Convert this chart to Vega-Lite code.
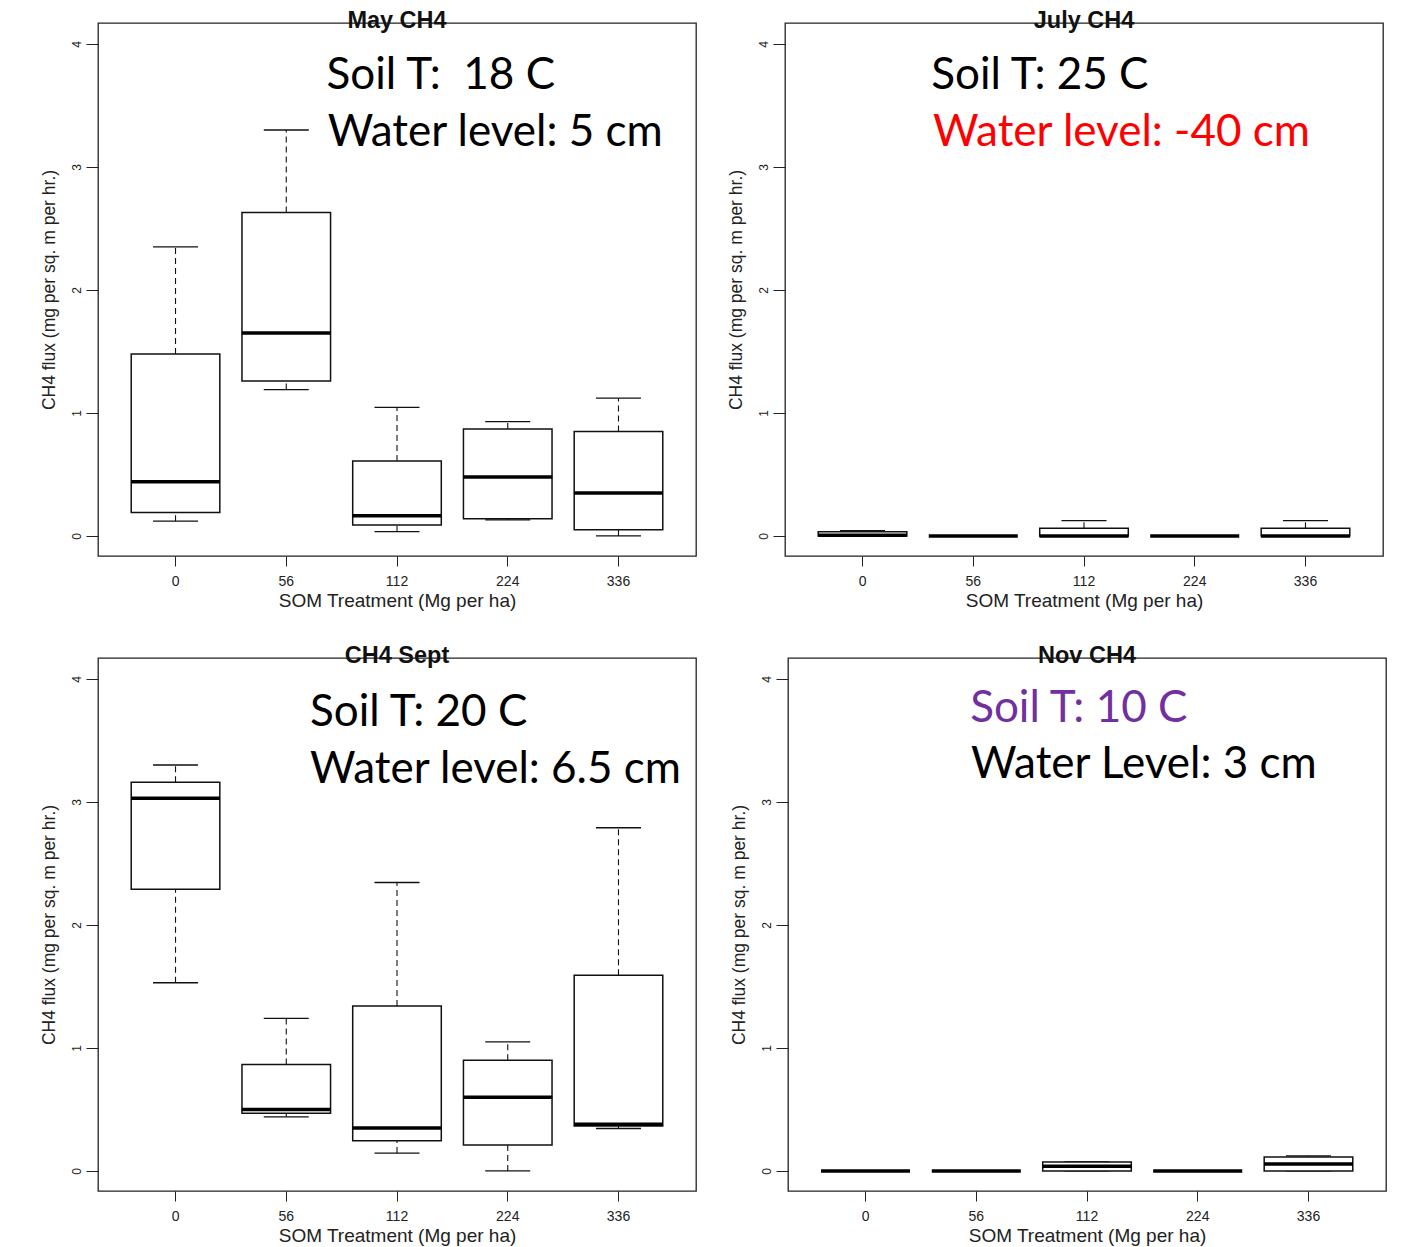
{
  "$schema": "https://vega.github.io/schema/vega-lite/v6.json",
  "background": "white",
  "padding": {"left": 39, "top": 7, "right": 5, "bottom": 5},
  "datasets": {
    "boxes": [
      {"month": "May", "som": "0", "lower": 0.12, "q1": 0.19, "median": 0.44, "q3": 1.48, "upper": 2.35},
      {"month": "May", "som": "56", "lower": 1.19, "q1": 1.26, "median": 1.65, "q3": 2.63, "upper": 3.3},
      {"month": "May", "som": "112", "lower": 0.035, "q1": 0.09, "median": 0.165, "q3": 0.61, "upper": 1.045},
      {"month": "May", "som": "224", "lower": 0.13, "q1": 0.14, "median": 0.48, "q3": 0.87, "upper": 0.93},
      {"month": "May", "som": "336", "lower": 0.0, "q1": 0.05, "median": 0.35, "q3": 0.85, "upper": 1.12},
      {"month": "July", "som": "0", "lower": 0.0, "q1": 0.0, "median": 0.005, "q3": 0.035, "upper": 0.043},
      {"month": "July", "som": "56", "lower": 0.0, "q1": 0.0, "median": 0.0, "q3": 0.0, "upper": 0.0},
      {"month": "July", "som": "112", "lower": 0.0, "q1": 0.0, "median": 0.0, "q3": 0.062, "upper": 0.125},
      {"month": "July", "som": "224", "lower": 0.0, "q1": 0.0, "median": 0.0, "q3": 0.0, "upper": 0.0},
      {"month": "July", "som": "336", "lower": 0.0, "q1": 0.0, "median": 0.0, "q3": 0.062, "upper": 0.125},
      {"month": "Sept", "som": "0", "lower": 1.53, "q1": 2.29, "median": 3.03, "q3": 3.16, "upper": 3.3},
      {"month": "Sept", "som": "56", "lower": 0.44, "q1": 0.47, "median": 0.5, "q3": 0.865, "upper": 1.24},
      {"month": "Sept", "som": "112", "lower": 0.145, "q1": 0.245, "median": 0.35, "q3": 1.34, "upper": 2.345},
      {"month": "Sept", "som": "224", "lower": 0.0, "q1": 0.21, "median": 0.6, "q3": 0.9, "upper": 1.05},
      {"month": "Sept", "som": "336", "lower": 0.345, "q1": 0.365, "median": 0.38, "q3": 1.59, "upper": 2.79},
      {"month": "Nov", "som": "0", "lower": 0.0, "q1": 0.0, "median": 0.0, "q3": 0.0, "upper": 0.0},
      {"month": "Nov", "som": "56", "lower": 0.0, "q1": 0.0, "median": 0.0, "q3": 0.0, "upper": 0.0},
      {"month": "Nov", "som": "112", "lower": 0.0, "q1": 0.0, "median": 0.038, "q3": 0.073, "upper": 0.073},
      {"month": "Nov", "som": "224", "lower": 0.0, "q1": 0.0, "median": 0.0, "q3": 0.0, "upper": 0.0},
      {"month": "Nov", "som": "336", "lower": 0.0, "q1": 0.0, "median": 0.057, "q3": 0.114, "upper": 0.122}
    ],
    "notes": [
      {"month": "May", "soil": "Soil T:\u00a0 18 C", "water": "Water level: 5 cm"},
      {"month": "July", "soil": "Soil T: 25 C", "water": "Water level: -40 cm"},
      {"month": "Sept", "soil": "Soil T: 20 C", "water": "Water level: 6.5 cm"},
      {"month": "Nov", "soil": "Soil T: 10 C", "water": "Water Level: 3 cm"}
    ]
  },
  "columns": 1,
  "align": "none",
  "bounds": "full",
  "spacing": 31,
  "concat": [
    {
      "bounds": "flush",
      "spacing": 89,
      "hconcat": [
        {
          "width": 598, "height": 533,
          "title": {"text": "May CH4"},
          "data": {"name": "boxes"},
          "transform": [{"filter": "datum.month === 'May'"}],
          "encoding": {"x": {"field": "som", "type": "ordinal", "title": "SOM Treatment (Mg per ha)", "scale": {"domain": ["0", "56", "112", "224", "336"], "paddingInner": 0.2, "paddingOuter": 0.3}}},
          "layer": [
            {"mark": {"type": "rule", "strokeDash": [6, 4], "color": "#111", "strokeWidth": 1.1}, "encoding": {"y": {"field": "lower", "type": "quantitative", "scale": {"domain": [-0.163, 4.17], "nice": false, "zero": false}, "axis": {"values": [0, 1, 2, 3, 4]}, "title": "CH4 flux (mg per sq. m per hr.)"}, "y2": {"field": "q1"}}},
            {"mark": {"type": "rule", "strokeDash": [6, 4], "color": "#111", "strokeWidth": 1.1}, "encoding": {"y": {"field": "q3", "type": "quantitative", "scale": {"domain": [-0.163, 4.17], "nice": false, "zero": false}, "axis": {"values": [0, 1, 2, 3, 4]}, "title": "CH4 flux (mg per sq. m per hr.)"}, "y2": {"field": "upper"}}},
            {"mark": {"type": "tick", "orient": "horizontal", "size": 45, "thickness": 1.3, "color": "#111", "opacity": 1}, "encoding": {"y": {"field": "lower", "type": "quantitative", "scale": {"domain": [-0.163, 4.17], "nice": false, "zero": false}, "axis": {"values": [0, 1, 2, 3, 4]}, "title": "CH4 flux (mg per sq. m per hr.)"}}},
            {"mark": {"type": "tick", "orient": "horizontal", "size": 45, "thickness": 1.3, "color": "#111", "opacity": 1}, "encoding": {"y": {"field": "upper", "type": "quantitative", "scale": {"domain": [-0.163, 4.17], "nice": false, "zero": false}, "axis": {"values": [0, 1, 2, 3, 4]}, "title": "CH4 flux (mg per sq. m per hr.)"}}},
            {"mark": {"type": "bar", "fill": "white", "stroke": "#111", "strokeWidth": 1.5, "opacity": 1}, "encoding": {"y": {"field": "q1", "type": "quantitative", "scale": {"domain": [-0.163, 4.17], "nice": false, "zero": false}, "axis": {"values": [0, 1, 2, 3, 4]}, "title": "CH4 flux (mg per sq. m per hr.)"}, "y2": {"field": "q3"}}},
            {"mark": {"type": "tick", "orient": "horizontal", "size": 89, "thickness": 3.5, "color": "#000", "opacity": 1}, "encoding": {"y": {"field": "median", "type": "quantitative", "scale": {"domain": [-0.163, 4.17], "nice": false, "zero": false}, "axis": {"values": [0, 1, 2, 3, 4]}, "title": "CH4 flux (mg per sq. m per hr.)"}}},
            {"data": {"name": "notes"}, "transform": [{"filter": "datum.month === 'May'"}], "mark": {"type": "text", "font": "Lato", "fontSize": 44, "align": "left", "baseline": "middle", "color": "#000"}, "encoding": {"x": {"datum": "56", "type": "ordinal", "bandPosition": 0.955, "title": "SOM Treatment (Mg per ha)"}, "y": {"datum": 3.738, "type": "quantitative", "scale": {"domain": [-0.163, 4.17], "nice": false, "zero": false}, "axis": {"values": [0, 1, 2, 3, 4]}, "title": "CH4 flux (mg per sq. m per hr.)"}, "text": {"field": "soil"}}},
            {"data": {"name": "notes"}, "transform": [{"filter": "datum.month === 'May'"}], "mark": {"type": "text", "font": "Lato", "fontSize": 44, "align": "left", "baseline": "middle", "color": "#000"}, "encoding": {"x": {"datum": "56", "type": "ordinal", "bandPosition": 0.967, "title": "SOM Treatment (Mg per ha)"}, "y": {"datum": 3.278, "type": "quantitative", "scale": {"domain": [-0.163, 4.17], "nice": false, "zero": false}, "axis": {"values": [0, 1, 2, 3, 4]}, "title": "CH4 flux (mg per sq. m per hr.)"}, "text": {"field": "water"}}}
          ]
        },
        {
          "width": 598, "height": 533,
          "title": {"text": "July CH4"},
          "data": {"name": "boxes"},
          "transform": [{"filter": "datum.month === 'July'"}],
          "encoding": {"x": {"field": "som", "type": "ordinal", "title": "SOM Treatment (Mg per ha)", "scale": {"domain": ["0", "56", "112", "224", "336"], "paddingInner": 0.2, "paddingOuter": 0.3}}},
          "layer": [
            {"mark": {"type": "rule", "strokeDash": [6, 4], "color": "#111", "strokeWidth": 1.1}, "encoding": {"y": {"field": "lower", "type": "quantitative", "scale": {"domain": [-0.163, 4.17], "nice": false, "zero": false}, "axis": {"values": [0, 1, 2, 3, 4]}, "title": "CH4 flux (mg per sq. m per hr.)"}, "y2": {"field": "q1"}}},
            {"mark": {"type": "rule", "strokeDash": [6, 4], "color": "#111", "strokeWidth": 1.1}, "encoding": {"y": {"field": "q3", "type": "quantitative", "scale": {"domain": [-0.163, 4.17], "nice": false, "zero": false}, "axis": {"values": [0, 1, 2, 3, 4]}, "title": "CH4 flux (mg per sq. m per hr.)"}, "y2": {"field": "upper"}}},
            {"mark": {"type": "tick", "orient": "horizontal", "size": 45, "thickness": 1.3, "color": "#111", "opacity": 1}, "encoding": {"y": {"field": "lower", "type": "quantitative", "scale": {"domain": [-0.163, 4.17], "nice": false, "zero": false}, "axis": {"values": [0, 1, 2, 3, 4]}, "title": "CH4 flux (mg per sq. m per hr.)"}}},
            {"mark": {"type": "tick", "orient": "horizontal", "size": 45, "thickness": 1.3, "color": "#111", "opacity": 1}, "encoding": {"y": {"field": "upper", "type": "quantitative", "scale": {"domain": [-0.163, 4.17], "nice": false, "zero": false}, "axis": {"values": [0, 1, 2, 3, 4]}, "title": "CH4 flux (mg per sq. m per hr.)"}}},
            {"mark": {"type": "bar", "fill": "white", "stroke": "#111", "strokeWidth": 1.5, "opacity": 1}, "encoding": {"y": {"field": "q1", "type": "quantitative", "scale": {"domain": [-0.163, 4.17], "nice": false, "zero": false}, "axis": {"values": [0, 1, 2, 3, 4]}, "title": "CH4 flux (mg per sq. m per hr.)"}, "y2": {"field": "q3"}}},
            {"mark": {"type": "tick", "orient": "horizontal", "size": 89, "thickness": 3.5, "color": "#000", "opacity": 1}, "encoding": {"y": {"field": "median", "type": "quantitative", "scale": {"domain": [-0.163, 4.17], "nice": false, "zero": false}, "axis": {"values": [0, 1, 2, 3, 4]}, "title": "CH4 flux (mg per sq. m per hr.)"}}},
            {"data": {"name": "notes"}, "transform": [{"filter": "datum.month === 'July'"}], "mark": {"type": "text", "font": "Lato", "fontSize": 44, "align": "left", "baseline": "middle", "color": "#000"}, "encoding": {"x": {"datum": "56", "type": "ordinal", "bandPosition": 0.026, "title": "SOM Treatment (Mg per ha)"}, "y": {"datum": 3.738, "type": "quantitative", "scale": {"domain": [-0.163, 4.17], "nice": false, "zero": false}, "axis": {"values": [0, 1, 2, 3, 4]}, "title": "CH4 flux (mg per sq. m per hr.)"}, "text": {"field": "soil"}}},
            {"data": {"name": "notes"}, "transform": [{"filter": "datum.month === 'July'"}], "mark": {"type": "text", "font": "Lato", "fontSize": 44, "align": "left", "baseline": "middle", "color": "#FF0000"}, "encoding": {"x": {"datum": "56", "type": "ordinal", "bandPosition": 0.046, "title": "SOM Treatment (Mg per ha)"}, "y": {"datum": 3.278, "type": "quantitative", "scale": {"domain": [-0.163, 4.17], "nice": false, "zero": false}, "axis": {"values": [0, 1, 2, 3, 4]}, "title": "CH4 flux (mg per sq. m per hr.)"}, "text": {"field": "water"}}}
          ]
        }
      ]
    },
    {
      "bounds": "flush",
      "spacing": 92,
      "hconcat": [
        {
          "width": 598, "height": 533,
          "title": {"text": "CH4 Sept"},
          "data": {"name": "boxes"},
          "transform": [{"filter": "datum.month === 'Sept'"}],
          "encoding": {"x": {"field": "som", "type": "ordinal", "title": "SOM Treatment (Mg per ha)", "scale": {"domain": ["0", "56", "112", "224", "336"], "paddingInner": 0.2, "paddingOuter": 0.3}}},
          "layer": [
            {"mark": {"type": "rule", "strokeDash": [6, 4], "color": "#111", "strokeWidth": 1.1}, "encoding": {"y": {"field": "lower", "type": "quantitative", "scale": {"domain": [-0.163, 4.17], "nice": false, "zero": false}, "axis": {"values": [0, 1, 2, 3, 4]}, "title": "CH4 flux (mg per sq. m per hr.)"}, "y2": {"field": "q1"}}},
            {"mark": {"type": "rule", "strokeDash": [6, 4], "color": "#111", "strokeWidth": 1.1}, "encoding": {"y": {"field": "q3", "type": "quantitative", "scale": {"domain": [-0.163, 4.17], "nice": false, "zero": false}, "axis": {"values": [0, 1, 2, 3, 4]}, "title": "CH4 flux (mg per sq. m per hr.)"}, "y2": {"field": "upper"}}},
            {"mark": {"type": "tick", "orient": "horizontal", "size": 45, "thickness": 1.3, "color": "#111", "opacity": 1}, "encoding": {"y": {"field": "lower", "type": "quantitative", "scale": {"domain": [-0.163, 4.17], "nice": false, "zero": false}, "axis": {"values": [0, 1, 2, 3, 4]}, "title": "CH4 flux (mg per sq. m per hr.)"}}},
            {"mark": {"type": "tick", "orient": "horizontal", "size": 45, "thickness": 1.3, "color": "#111", "opacity": 1}, "encoding": {"y": {"field": "upper", "type": "quantitative", "scale": {"domain": [-0.163, 4.17], "nice": false, "zero": false}, "axis": {"values": [0, 1, 2, 3, 4]}, "title": "CH4 flux (mg per sq. m per hr.)"}}},
            {"mark": {"type": "bar", "fill": "white", "stroke": "#111", "strokeWidth": 1.5, "opacity": 1}, "encoding": {"y": {"field": "q1", "type": "quantitative", "scale": {"domain": [-0.163, 4.17], "nice": false, "zero": false}, "axis": {"values": [0, 1, 2, 3, 4]}, "title": "CH4 flux (mg per sq. m per hr.)"}, "y2": {"field": "q3"}}},
            {"mark": {"type": "tick", "orient": "horizontal", "size": 89, "thickness": 3.5, "color": "#000", "opacity": 1}, "encoding": {"y": {"field": "median", "type": "quantitative", "scale": {"domain": [-0.163, 4.17], "nice": false, "zero": false}, "axis": {"values": [0, 1, 2, 3, 4]}, "title": "CH4 flux (mg per sq. m per hr.)"}}},
            {"data": {"name": "notes"}, "transform": [{"filter": "datum.month === 'Sept'"}], "mark": {"type": "text", "font": "Lato", "fontSize": 44, "align": "left", "baseline": "middle", "color": "#000"}, "encoding": {"x": {"datum": "56", "type": "ordinal", "bandPosition": 0.769, "title": "SOM Treatment (Mg per ha)"}, "y": {"datum": 3.725, "type": "quantitative", "scale": {"domain": [-0.163, 4.17], "nice": false, "zero": false}, "axis": {"values": [0, 1, 2, 3, 4]}, "title": "CH4 flux (mg per sq. m per hr.)"}, "text": {"field": "soil"}}},
            {"data": {"name": "notes"}, "transform": [{"filter": "datum.month === 'Sept'"}], "mark": {"type": "text", "font": "Lato", "fontSize": 44, "align": "left", "baseline": "middle", "color": "#000"}, "encoding": {"x": {"datum": "56", "type": "ordinal", "bandPosition": 0.769, "title": "SOM Treatment (Mg per ha)"}, "y": {"datum": 3.26, "type": "quantitative", "scale": {"domain": [-0.163, 4.17], "nice": false, "zero": false}, "axis": {"values": [0, 1, 2, 3, 4]}, "title": "CH4 flux (mg per sq. m per hr.)"}, "text": {"field": "water"}}}
          ]
        },
        {
          "width": 598, "height": 533,
          "title": {"text": "Nov CH4"},
          "data": {"name": "boxes"},
          "transform": [{"filter": "datum.month === 'Nov'"}],
          "encoding": {"x": {"field": "som", "type": "ordinal", "title": "SOM Treatment (Mg per ha)", "scale": {"domain": ["0", "56", "112", "224", "336"], "paddingInner": 0.2, "paddingOuter": 0.3}}},
          "layer": [
            {"mark": {"type": "rule", "strokeDash": [6, 4], "color": "#111", "strokeWidth": 1.1}, "encoding": {"y": {"field": "lower", "type": "quantitative", "scale": {"domain": [-0.163, 4.17], "nice": false, "zero": false}, "axis": {"values": [0, 1, 2, 3, 4]}, "title": "CH4 flux (mg per sq. m per hr.)"}, "y2": {"field": "q1"}}},
            {"mark": {"type": "rule", "strokeDash": [6, 4], "color": "#111", "strokeWidth": 1.1}, "encoding": {"y": {"field": "q3", "type": "quantitative", "scale": {"domain": [-0.163, 4.17], "nice": false, "zero": false}, "axis": {"values": [0, 1, 2, 3, 4]}, "title": "CH4 flux (mg per sq. m per hr.)"}, "y2": {"field": "upper"}}},
            {"mark": {"type": "tick", "orient": "horizontal", "size": 45, "thickness": 1.3, "color": "#111", "opacity": 1}, "encoding": {"y": {"field": "lower", "type": "quantitative", "scale": {"domain": [-0.163, 4.17], "nice": false, "zero": false}, "axis": {"values": [0, 1, 2, 3, 4]}, "title": "CH4 flux (mg per sq. m per hr.)"}}},
            {"mark": {"type": "tick", "orient": "horizontal", "size": 45, "thickness": 1.3, "color": "#111", "opacity": 1}, "encoding": {"y": {"field": "upper", "type": "quantitative", "scale": {"domain": [-0.163, 4.17], "nice": false, "zero": false}, "axis": {"values": [0, 1, 2, 3, 4]}, "title": "CH4 flux (mg per sq. m per hr.)"}}},
            {"mark": {"type": "bar", "fill": "white", "stroke": "#111", "strokeWidth": 1.5, "opacity": 1}, "encoding": {"y": {"field": "q1", "type": "quantitative", "scale": {"domain": [-0.163, 4.17], "nice": false, "zero": false}, "axis": {"values": [0, 1, 2, 3, 4]}, "title": "CH4 flux (mg per sq. m per hr.)"}, "y2": {"field": "q3"}}},
            {"mark": {"type": "tick", "orient": "horizontal", "size": 89, "thickness": 3.5, "color": "#000", "opacity": 1}, "encoding": {"y": {"field": "median", "type": "quantitative", "scale": {"domain": [-0.163, 4.17], "nice": false, "zero": false}, "axis": {"values": [0, 1, 2, 3, 4]}, "title": "CH4 flux (mg per sq. m per hr.)"}}},
            {"data": {"name": "notes"}, "transform": [{"filter": "datum.month === 'Nov'"}], "mark": {"type": "text", "font": "Lato", "fontSize": 44, "align": "left", "baseline": "middle", "color": "#7030A0"}, "encoding": {"x": {"datum": "56", "type": "ordinal", "bandPosition": 0.431, "title": "SOM Treatment (Mg per ha)"}, "y": {"datum": 3.755, "type": "quantitative", "scale": {"domain": [-0.163, 4.17], "nice": false, "zero": false}, "axis": {"values": [0, 1, 2, 3, 4]}, "title": "CH4 flux (mg per sq. m per hr.)"}, "text": {"field": "soil"}}},
            {"data": {"name": "notes"}, "transform": [{"filter": "datum.month === 'Nov'"}], "mark": {"type": "text", "font": "Lato", "fontSize": 44, "align": "left", "baseline": "middle", "color": "#000"}, "encoding": {"x": {"datum": "56", "type": "ordinal", "bandPosition": 0.441, "title": "SOM Treatment (Mg per ha)"}, "y": {"datum": 3.3, "type": "quantitative", "scale": {"domain": [-0.163, 4.17], "nice": false, "zero": false}, "axis": {"values": [0, 1, 2, 3, 4]}, "title": "CH4 flux (mg per sq. m per hr.)"}, "text": {"field": "water"}}}
          ]
        }
      ]
    }
  ],
  "config": {
    "view": {"stroke": "#222", "strokeWidth": 1.3},
    "axis": {"grid": false, "domain": false, "tickColor": "#222", "labelColor": "#222", "titleColor": "#222", "labelFont": "Liberation Sans", "titleFont": "Liberation Sans", "titleFontWeight": "normal"},
    "axisX": {"tickSize": 10, "labelFontSize": 14, "labelPadding": 8, "labelAngle": 0, "titleFontSize": 19, "titlePadding": 3},
    "axisY": {"tickSize": 12, "labelFontSize": 12, "labelAngle": 270, "labelPadding": 3, "titleFontSize": 17.5, "titlePadding": 12},
    "title": {"font": "Liberation Sans", "fontSize": 23.5, "fontWeight": "bold", "color": "#111", "offset": -9, "anchor": "middle"}
  }
}
